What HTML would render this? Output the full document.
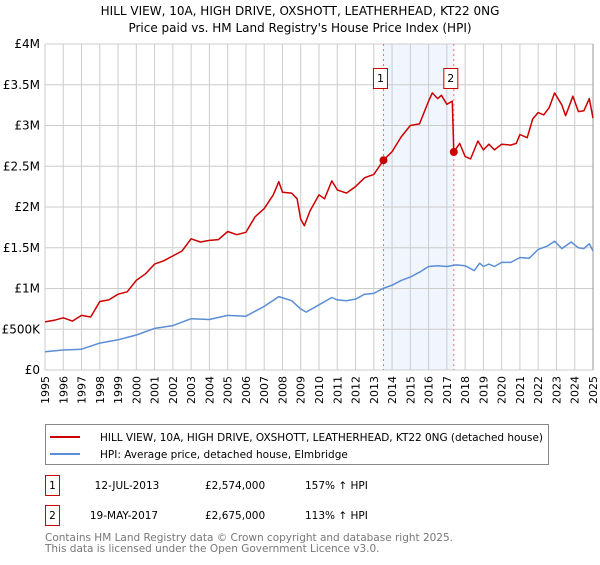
<!DOCTYPE html>
<html><head><meta charset="utf-8">
<style>
body{margin:0;background:#fff;width:600px;height:560px;overflow:hidden;font-family:"Liberation Sans","DejaVu Sans",sans-serif;}
svg text{font-family:"DejaVu Sans","Liberation Sans",sans-serif;}
</style></head>
<body>
<svg id="chart" width="600" height="560">
<text x="300" y="15" text-anchor="middle" font-size="12" fill="#000">HILL VIEW, 10A, HIGH DRIVE, OXSHOTT, LEATHERHEAD, KT22 0NG</text>
<text x="300" y="32" text-anchor="middle" font-size="12" fill="#000">Price paid vs. HM Land Registry's House Price Index (HPI)</text>
<g id="plot"></g>
<rect x="45.5" y="424.5" width="503" height="40" fill="#fff" stroke="#888"/>
<line x1="50" y1="437" x2="80" y2="437" stroke="#cc0000" stroke-width="2"/>
<text x="100" y="441" font-size="10.5" textLength="443">HILL VIEW, 10A, HIGH DRIVE, OXSHOTT, LEATHERHEAD, KT22 0NG (detached house)</text>
<line x1="50" y1="454" x2="80" y2="454" stroke="#5b8ed6" stroke-width="2"/>
<text x="100" y="458" font-size="10.5">HPI: Average price, detached house, Elmbridge</text>
<g>
<rect x="45.5" y="475.5" width="14" height="20" fill="#fff" stroke="#cc0000"/>
<text x="52.5" y="489" font-size="10.5" text-anchor="middle">1</text>
<text x="127" y="489" font-size="10.5" text-anchor="middle">12-JUL-2013</text>
<text x="205" y="489" font-size="10.5">£2,574,000</text>
<text x="305" y="489" font-size="10.5">157% ↑ HPI</text>
</g>
<g>
<rect x="45.5" y="505.5" width="14" height="20" fill="#fff" stroke="#cc0000"/>
<text x="52.5" y="519" font-size="10.5" text-anchor="middle">2</text>
<text x="124" y="519" font-size="10.5" text-anchor="middle">19-MAY-2017</text>
<text x="205" y="519" font-size="10.5">£2,675,000</text>
<text x="305" y="519" font-size="10.5">113% ↑ HPI</text>
</g>
<text x="45" y="541" font-size="10.5" fill="#777" textLength="408">Contains HM Land Registry data © Crown copyright and database right 2025.</text>
<text x="45" y="552" font-size="10.5" fill="#777">This data is licensed under the Open Government Licence v3.0.</text>
</svg>
<script>
const yearTicks=[1995,1996,1997,1998,1999,2000,2001,2002,2003,2004,2005,2006,2007,2008,2009,2010,2011,2012,2013,2014,2015,2016,2017,2018,2019,2020,2021,2022,2023,2024,2025];
const yTickValues=[0,500000,1000000,1500000,2000000,2500000,3000000,3500000,4000000];
const yTickLabels=["£0","£500K","£1M","£1.5M","£2M","£2.5M","£3M","£3.5M","£4M"];
const propYears=[1995,1995.5,1996,1996.5,1997,1997.5,1998,1998.5,1999,1999.5,2000,2000.5,2001,2001.5,2002,2002.5,2003,2003.5,2004,2004.5,2005,2005.5,2006,2006.5,2007,2007.5,2007.8,2008,2008.5,2008.8,2009,2009.2,2009.5,2010,2010.3,2010.7,2011,2011.5,2012,2012.5,2013,2013.53,2014,2014.5,2015,2015.5,2016,2016.2,2016.5,2016.7,2017,2017.3,2017.38,2017.7,2018,2018.3,2018.7,2019,2019.3,2019.6,2020,2020.5,2020.8,2021,2021.4,2021.7,2022,2022.3,2022.6,2022.9,2023.3,2023.5,2023.9,2024.2,2024.5,2024.8,2025];
const propValues=[590,610,640,600,670,650,840,860,930,960,1100,1180,1300,1340,1400,1460,1610,1570,1590,1600,1700,1660,1690,1880,1980,2150,2310,2180,2170,2100,1850,1770,1950,2150,2100,2320,2210,2170,2250,2360,2400,2574,2680,2860,3000,3020,3300,3400,3330,3370,3260,3300,2675,2780,2620,2590,2810,2700,2770,2700,2770,2760,2780,2890,2850,3080,3160,3130,3220,3400,3250,3120,3360,3170,3180,3330,3090];
const hpiYears=[1995,1996,1997,1998,1999,2000,2001,2002,2003,2004,2005,2006,2007,2007.8,2008.5,2009,2009.3,2010,2010.7,2011,2011.5,2012,2012.5,2013,2013.5,2014,2014.5,2015,2015.5,2016,2016.5,2017,2017.5,2018,2018.5,2018.8,2019,2019.3,2019.6,2020,2020.5,2021,2021.5,2022,2022.5,2022.9,2023.3,2023.8,2024.2,2024.5,2024.8,2025];
const hpiValues=[225,245,255,330,370,430,510,545,630,620,670,660,780,900,850,750,710,800,890,860,850,870,930,940,1000,1040,1100,1140,1200,1270,1280,1270,1290,1280,1220,1310,1270,1300,1270,1320,1320,1380,1370,1480,1520,1580,1490,1570,1500,1490,1550,1460];
const saleYears=[2013.53,2017.38];
const saleValues=[2574,2675];
const saleLabels=["1","2"];

const NS="http://www.w3.org/2000/svg";
const X0=45,X1=593,Y0=370,Y1=44;
const xs=y=>X0+(y-1995)/(2025-1995)*(X1-X0);
const ys=v=>Y0-v/4000000*(Y0-Y1);
const g=document.getElementById('plot');
function mk(t,a){const e=document.createElementNS(NS,t);for(const k in a)e.setAttribute(k,a[k]);g.appendChild(e);return e;}
const band=mk('rect',{x:xs(saleYears[0]),y:Y1,width:xs(saleYears[1])-xs(saleYears[0]),height:Y0-Y1,fill:'#eef3fd',opacity:0.8});


yearTicks.forEach(yr=>{
 const l=mk('line',{x1:xs(yr),x2:xs(yr),y1:Y1,y2:Y0,stroke:'#ccc','stroke-width':1});
 
 
 const t=mk('text',{x:0,y:0,'font-size':11,'text-anchor':'end',transform:`translate(${xs(yr)+4},${Y0+6}) rotate(-90)`});
 t.textContent=yr;
 
 
});
yTickValues.forEach((v,i)=>{
 const l=mk('line',{x1:X0,x2:X1,y1:ys(v),y2:ys(v),stroke:'#ccc','stroke-width':1});
 
 
 const t=mk('text',{x:40,y:ys(v)+4,'font-size':12,'text-anchor':'end'});
 t.textContent=yTickLabels[i];
 
 
});
const ax=mk('line',{x1:X1,x2:X1,y1:Y1,y2:Y0,stroke:'#999','stroke-width':1});


saleYears.forEach((yr,i)=>{
 const l=mk('line',{x1:xs(yr),x2:xs(yr),y1:Y1,y2:Y0,stroke:'#f07070','stroke-width':1,'stroke-dasharray':'2,3'});
 
 
});
function path(xa,va,col,name){
 const d=xa.map((x,i)=>(i?'L':'M')+xs(x).toFixed(1)+','+ys(va[i]*1000).toFixed(1)).join('');
 const p=mk('path',{d:d,fill:'none',stroke:col,'stroke-width':1.5,'stroke-linejoin':'round'});
 
 
}
path(hpiYears,hpiValues,'#5b8ed6','hpi-line');
path(propYears,propValues,'#cc0000','property-line');
saleYears.forEach((yr,i)=>{
 const c=mk('circle',{cx:xs(yr),cy:ys(saleValues[i]*1000),r:4,fill:'#cc0000'});
 
 
 const cx=xs(yr)-3;
 const b=mk('rect',{x:cx-7,y:68.5,width:14,height:20,fill:'#fff',stroke:'#cc0000'});
 
 
 const t=mk('text',{x:cx,y:82,'font-size':11,'text-anchor':'middle'});
 t.textContent=saleLabels[i];
 
 
});
</script>
</body></html>
